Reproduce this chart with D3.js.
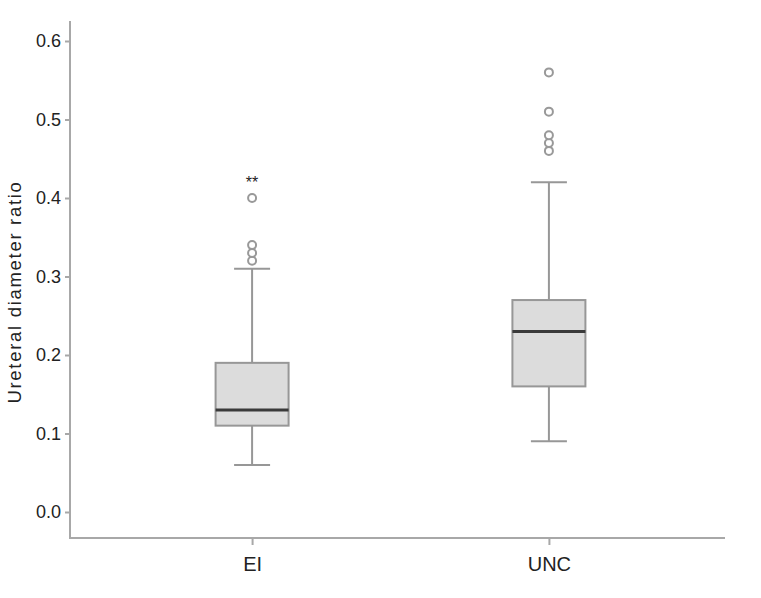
<!DOCTYPE html>
<html><head><meta charset="utf-8">
<script src="https://cdn.jsdelivr.net/npm/d3@7"></script>
<style>body{margin:0;background:#fff}svg{display:block}text{font-family:"Liberation Sans",Arial,sans-serif}</style>
</head><body>
<svg id="c" width="761" height="598"></svg>
<script>
const categories = ["EI", "UNC"];
const whiskerLow = [0.06, 0.09];
const q1 = [0.11, 0.16];
const median = [0.13, 0.23];
const q3 = [0.19, 0.27];
const whiskerHigh = [0.31, 0.42];
const outliers = [[0.32, 0.33, 0.34, 0.40], [0.46, 0.47, 0.48, 0.51, 0.56]];
const extremeMarks = [{cat: "EI", value: 0.42, label: "**"}];
const yTicks = [0.0, 0.1, 0.2, 0.3, 0.4, 0.5, 0.6];
const yLabel = "Ureteral diameter ratio";

const svg = d3.select("#c");
const y = d3.scaleLinear().domain([0, 0.6]).range([512, 41]);
const x = d3.scalePoint().domain(categories).range([74, 727]).padding(0.6);
const axisColor = "#a8a8a8";
const ff = "Liberation Sans, Arial, sans-serif";

// axes lines
svg.append("line").attr("x1", 70).attr("x2", 70).attr("y1", 21).attr("y2", 539)
  .attr("stroke", axisColor).attr("stroke-width", 2);
svg.append("line").attr("x1", 69).attr("x2", 725).attr("y1", 538).attr("y2", 538)
  .attr("stroke", axisColor).attr("stroke-width", 2);

const yAxis = svg.append("g").attr("transform", "translate(70,0)")
  .call(d3.axisLeft(y).tickValues(yTicks).tickFormat(d3.format(".1f")).tickSize(5).tickPadding(4));
yAxis.select(".domain").remove();
yAxis.selectAll("line").attr("stroke", axisColor).attr("stroke-width", 2);
yAxis.selectAll("text").attr("font-size", 18).attr("fill", "#222").attr("font-family", ff);

const xAxis = svg.append("g").attr("transform", "translate(0,538)")
  .call(d3.axisBottom(x).tickSize(7).tickPadding(12));
xAxis.select(".domain").remove();
xAxis.selectAll("line").attr("stroke", axisColor).attr("stroke-width", 2);
xAxis.selectAll("text").attr("font-size", 20).attr("fill", "#222").attr("font-family", ff);

svg.append("text").attr("transform", "translate(21,292) rotate(-90)")
  .attr("text-anchor", "middle").attr("font-size", 18.5).attr("letter-spacing", 1.7)
  .attr("fill", "#222").text(yLabel);

const boxW = 73, capW = 36;
const stroke = "#979797";
categories.forEach((c, i) => {
  const cx = x(c);
  const g = svg.append("g");
  g.append("line").attr("x1", cx).attr("x2", cx).attr("y1", y(whiskerHigh[i])).attr("y2", y(q3[i]))
    .attr("stroke", stroke).attr("stroke-width", 2);
  g.append("line").attr("x1", cx).attr("x2", cx).attr("y1", y(q1[i])).attr("y2", y(whiskerLow[i]))
    .attr("stroke", stroke).attr("stroke-width", 2);
  g.append("line").attr("x1", cx - capW/2).attr("x2", cx + capW/2).attr("y1", y(whiskerHigh[i])).attr("y2", y(whiskerHigh[i]))
    .attr("stroke", stroke).attr("stroke-width", 2);
  g.append("line").attr("x1", cx - capW/2).attr("x2", cx + capW/2).attr("y1", y(whiskerLow[i])).attr("y2", y(whiskerLow[i]))
    .attr("stroke", stroke).attr("stroke-width", 2);
  g.append("rect").attr("x", cx - boxW/2).attr("y", y(q3[i])).attr("width", boxW)
    .attr("height", y(q1[i]) - y(q3[i])).attr("fill", "#dcdcdc").attr("stroke", stroke).attr("stroke-width", 2);
  g.append("line").attr("x1", cx - boxW/2).attr("x2", cx + boxW/2).attr("y1", y(median[i])).attr("y2", y(median[i]))
    .attr("stroke", "#3a3a3a").attr("stroke-width", 3);
  g.selectAll("circle").data(outliers[i]).join("circle")
    .attr("cx", cx).attr("cy", d => y(d)).attr("r", 4)
    .attr("fill", "#fff").attr("stroke", "#999").attr("stroke-width", 2);
});

extremeMarks.forEach(m => {
  svg.append("text").attr("x", x(m.cat)).attr("y", y(m.value) + 6).attr("text-anchor", "middle")
    .attr("font-size", 16).attr("fill", "#222").text(m.label);
});
</script>
</body></html>
